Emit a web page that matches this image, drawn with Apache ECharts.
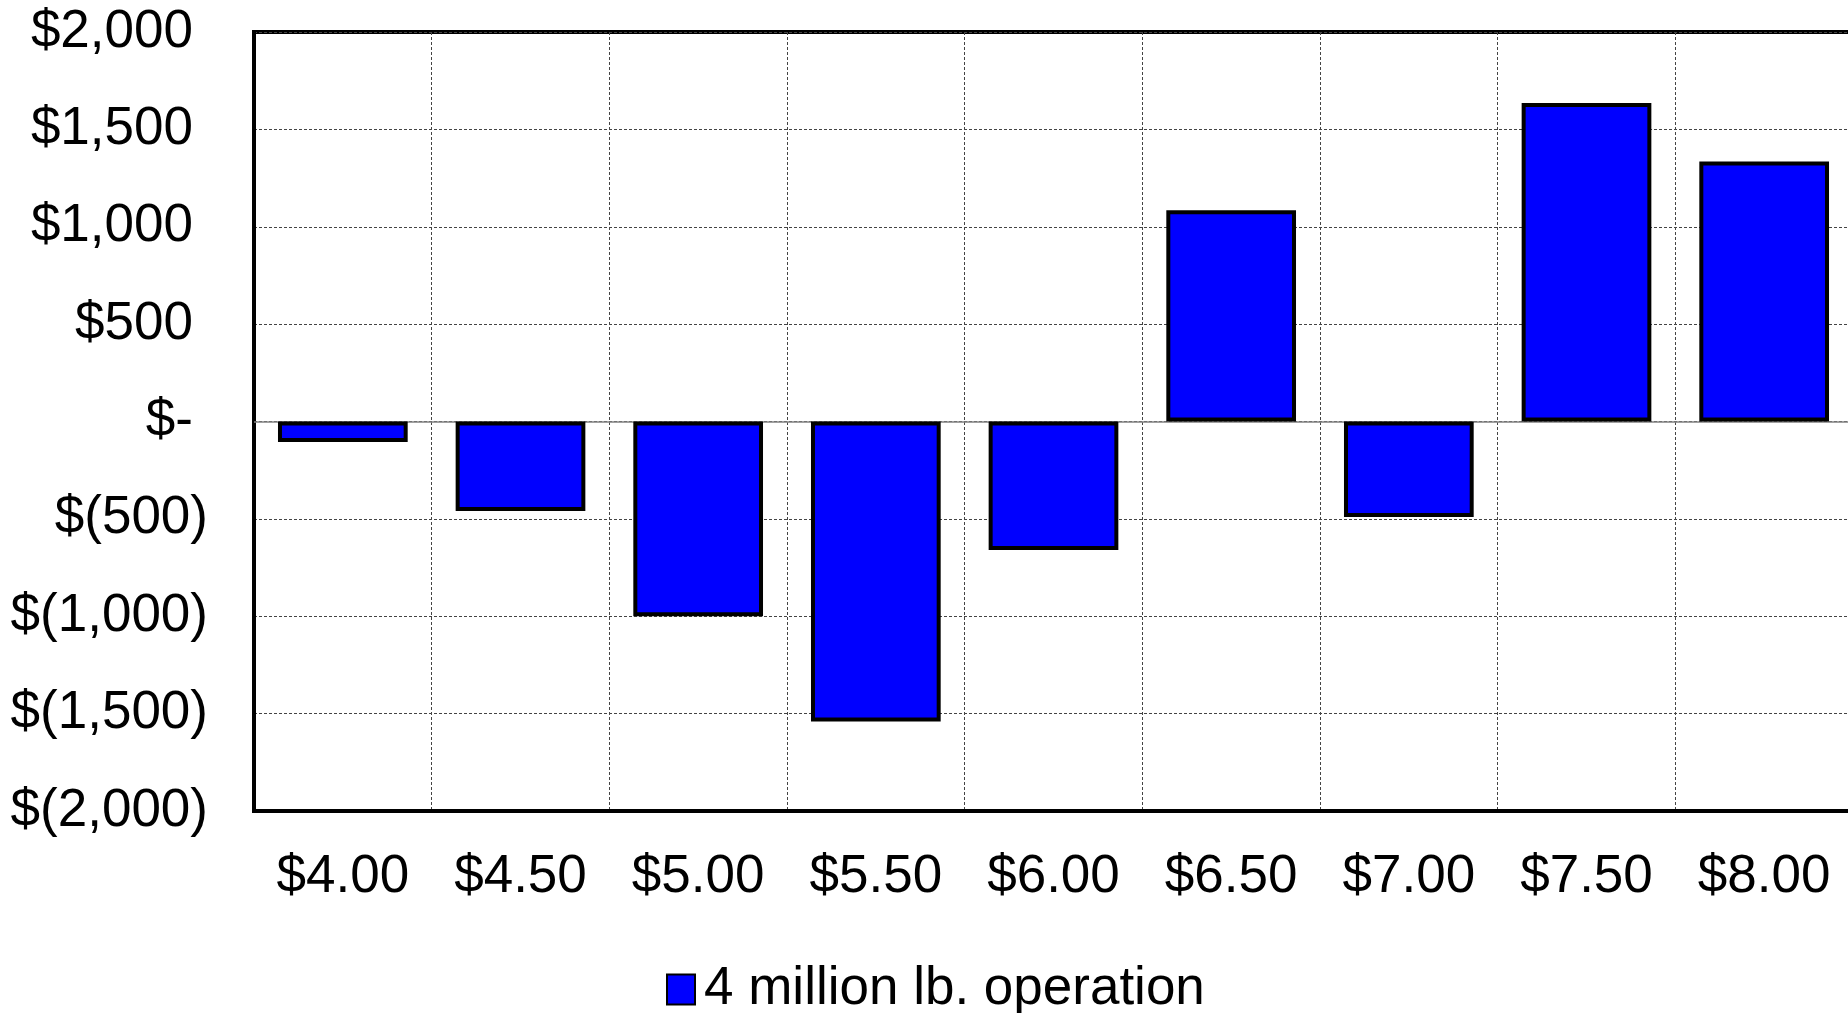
<!DOCTYPE html>
<html>
<head>
<meta charset="utf-8">
<title>Net returns by price</title>
<script src="https://cdn.jsdelivr.net/npm/echarts@6/dist/echarts.min.js"></script>
<style>
  html, body { margin: 0; padding: 0; background: #ffffff; }
  #chart { width: 1848px; height: 1013px; }
</style>
</head>
<body>
<div id="chart"></div>
<script>
// Price points on the category axis
const categories = ['$4.00', '$4.50', '$5.00', '$5.50', '$6.00', '$6.50', '$7.00', '$7.50', '$8.00'];
// Net return per price point
const seriesName = '4 million lb. operation';
const returns = [-105, -460, -1000, -1540, -660, 1085, -490, 1635, 1335];
// Value axis range and step
const yMin = -2000;
const yMax = 2000;
const yStep = 500;

const FONT = '"Liberation Sans", Arial, sans-serif';
const FS = 53;

// Accounting-style money labels: $1,500 / $- / $(1,500)
function money(v) {
  if (v === 0) return '{pos|$-}';
  const s = Math.abs(v).toLocaleString('en-US');
  return v > 0 ? '{pos|$' + s + '}' : '{neg|$(' + s + ')}';
}

const chart = echarts.init(document.getElementById('chart'), null, { renderer: 'canvas' });

chart.setOption({
  animation: false,
  backgroundColor: '#ffffff',
  textStyle: { fontFamily: FONT },
  // plot frame runs slightly past the right edge of the canvas
  grid: {
    left: 254,
    top: 32,
    width: 1599,
    bottom: 202,
    show: true,
    borderColor: '#000000',
    borderWidth: 4,
    containLabel: false,
    outerBoundsMode: 'none'
  },
  legend: {
    left: 661,
    top: 958,
    itemWidth: 28,
    itemHeight: 30,
    itemGap: 10,
    textStyle: { fontFamily: FONT, fontSize: FS, color: '#000000', padding: [0, 0, 0, 4] },
    data: [{ name: seriesName, icon: 'rect' }]
  },
  xAxis: {
    type: 'category',
    data: categories,
    boundaryGap: true,
    axisLine: { onZero: false, lineStyle: { color: '#000000', width: 4 } },
    axisTick: { show: false },
    axisLabel: { fontFamily: FONT, fontSize: FS, color: '#000000', margin: 40 },
    splitLine: { show: true, lineStyle: { color: '#444444', width: 1, type: [3, 2] } }
  },
  yAxis: {
    type: 'value',
    min: yMin,
    max: yMax,
    interval: yStep,
    axisLine: { show: true, lineStyle: { color: '#000000', width: 4 } },
    axisTick: { show: false },
    axisLabel: {
      fontFamily: FONT,
      fontSize: FS,
      color: '#000000',
      margin: 46,
      formatter: money,
      rich: {
        pos: { fontFamily: FONT, fontSize: FS, color: '#000000', padding: [0, 15, 0, 0] },
        neg: { fontFamily: FONT, fontSize: FS, color: '#000000' }
      }
    },
    splitLine: { show: true, lineStyle: { color: '#444444', width: 1, type: [3, 2] } }
  },
  series: [{
    name: seriesName,
    type: 'bar',
    data: returns,
    barWidth: '73%',
    itemStyle: { color: '#0000ff', borderColor: '#000000', borderWidth: 4 },
    markLine: {
      silent: true,
      symbol: 'none',
      label: { show: false },
      lineStyle: { color: '#808080', width: 1.5, type: 'solid' },
      data: [{ yAxis: 0 }],
      z: 1
    },
    z: 3
  }]
});
</script>
</body>
</html>
